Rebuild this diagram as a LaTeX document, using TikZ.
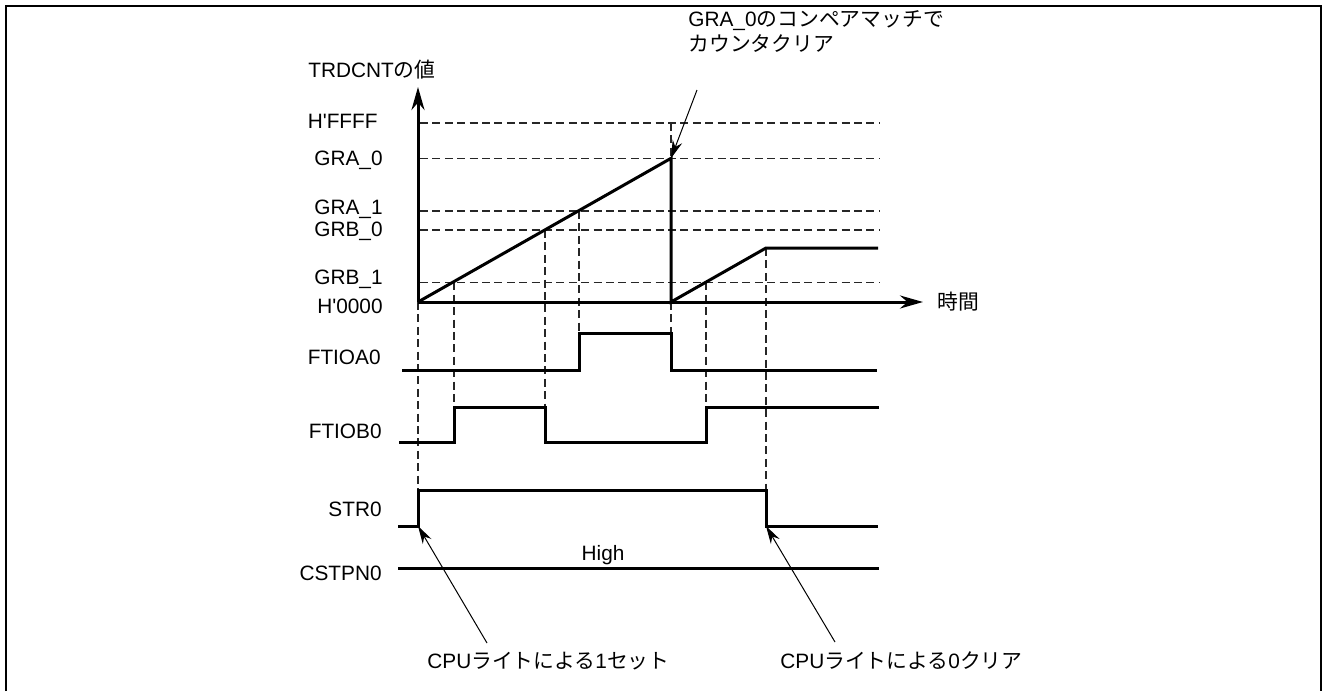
\documentclass[tikz,border=0pt]{standalone}
\usepackage{fontspec}
\setmainfont{Liberation Sans}
\newfontfamily\jp{Noto Sans CJK JP}
\usetikzlibrary{positioning, arrows.meta}

\begin{document}
\begin{tikzpicture}[
    x=0.5pt, y=-0.5pt,
    font=\fontsize{10.4}{12.5}\selectfont,
    wave/.style={line width=1.5pt, line join=miter},
    guide/.style={line width=0.8pt, black!85, dash pattern=on 4pt off 2.2pt},
    axis/.style={-{Stealth[length=11.5pt, width=6.5pt]}, line width=1.5pt},
    note/.style={-{Stealth[length=9pt, width=5pt]}, line width=0.5pt},
    lbl/.style={anchor=base east, inner sep=0pt},
    txt/.style={anchor=base west, inner sep=0pt, align=left}
]
  \useasboundingbox (0,0) rectangle (1323,691);
  % frame, open at the bottom
  \draw[line width=1pt] (6,691) -- (6,6) -- (1321,6) -- (1321,691);

  % named points of the counter curve and the STR0 edges
  \coordinate (o) at (418,302);
  \coordinate (ytop) at (418,87);
  \coordinate (xend) at (923,302);
  \coordinate (peak) at (671,158.3);
  \coordinate (s0up) at (418,526);
  \coordinate (s0dn) at (766,526);

  % compare levels (dashed)
  \draw[guide] (420,122.7) -- (880,122.7);
  \draw[guide] (420,158.3) -- (880,158.3);
  \draw[guide] (420,211) -- (880,211);
  \draw[guide] (420,230) -- (880,230);
  \draw[guide] (420,282.3) -- (880,282.3);

  % match instants (dashed)
  \draw[guide] (418,302) -- (418,490);
  \draw[guide] (454,282.3) -- (454,407.3);
  \draw[guide] (545,230) -- (545,407.3);
  \draw[guide] (579,211) -- (579,333.3);
  \draw[guide] (671,122.7) -- (671,158.3);
  \draw[guide] (671,302) -- (671,333.3);
  \draw[guide] (706,282.3) -- (706,407.3);
  \draw[guide] (766,248) -- (766,490);

  % axes and counter value
  \draw[axis] (o) -- (ytop);
  \draw[axis] (o) -- (xend);
  \draw[wave] (o) -- (peak) -- (671,302) -- (766,248) -- (878,248);

  % output waveforms
  \draw[wave] (402,370) -- (579,370) -- (579,333.3) -- (671,333.3) -- (671,370) -- (877,370);
  \draw[wave] (399,442.7) -- (454,442.7) -- (454,407.3) -- (545,407.3) -- (545,442.7)
      -- (706,442.7) -- (706,407.3) -- (879,407.3);
  \draw[wave] (398,526) -- (s0up) -- (418,490) -- (766,490) -- (s0dn) -- (878,526);
  \draw[wave] (398,568.3) -- (879,568.3);

  % labels
  \node[txt] (cnt) at (308,77.5) {TRDCNT{\jp の値}};
  \node[right=7pt of xend, inner sep=0pt] (tlbl) {\jp 時間};
  \node[lbl] (lffff) at (378,128.3) {H\textquotesingle FFFF};
  \node[lbl] (lgra0) at (383,165.7) {GRA\_0};
  \node[lbl] (lgra1) at (383,214) {GRA\_1};
  \node[lbl] (lgrb0) at (383,236.7) {GRB\_0};
  \node[lbl] (lgrb1) at (383,284) {GRB\_1};
  \node[lbl] (lzero) at (383,313.3) {H\textquotesingle 0000};
  \node[lbl] (lfa) at (381,364) {FTIOA0};
  \node[lbl] (lfb) at (382,438) {FTIOB0};
  \node[lbl] (lstr) at (382,516.7) {STR0};
  \node[lbl] (lcst) at (382,580) {CSTPN0};
  \node[anchor=base, inner sep=0pt] (high) at (603,560) {High};

  % notes
  \node[txt] (match) at (688,51.7) {GRA\_0{\jp のコンペアマッチで}\\{\jp カウンタクリア}};
  \node[txt] (set1) at (427,668) {CPU{\jp ライトによる}1{\jp セット}};
  \node[txt] (clr0) at (780,668) {CPU{\jp ライトによる}0{\jp クリア}};
  \coordinate (n0) at (697,90);
  \coordinate (n1) at (487,643);
  \coordinate (n2) at (835,642);
  \draw[note] (n0) -- (peak);
  \draw[note] (n1) -- (s0up);
  \draw[note] (n2) -- (s0dn);
\end{tikzpicture}
\end{document}
